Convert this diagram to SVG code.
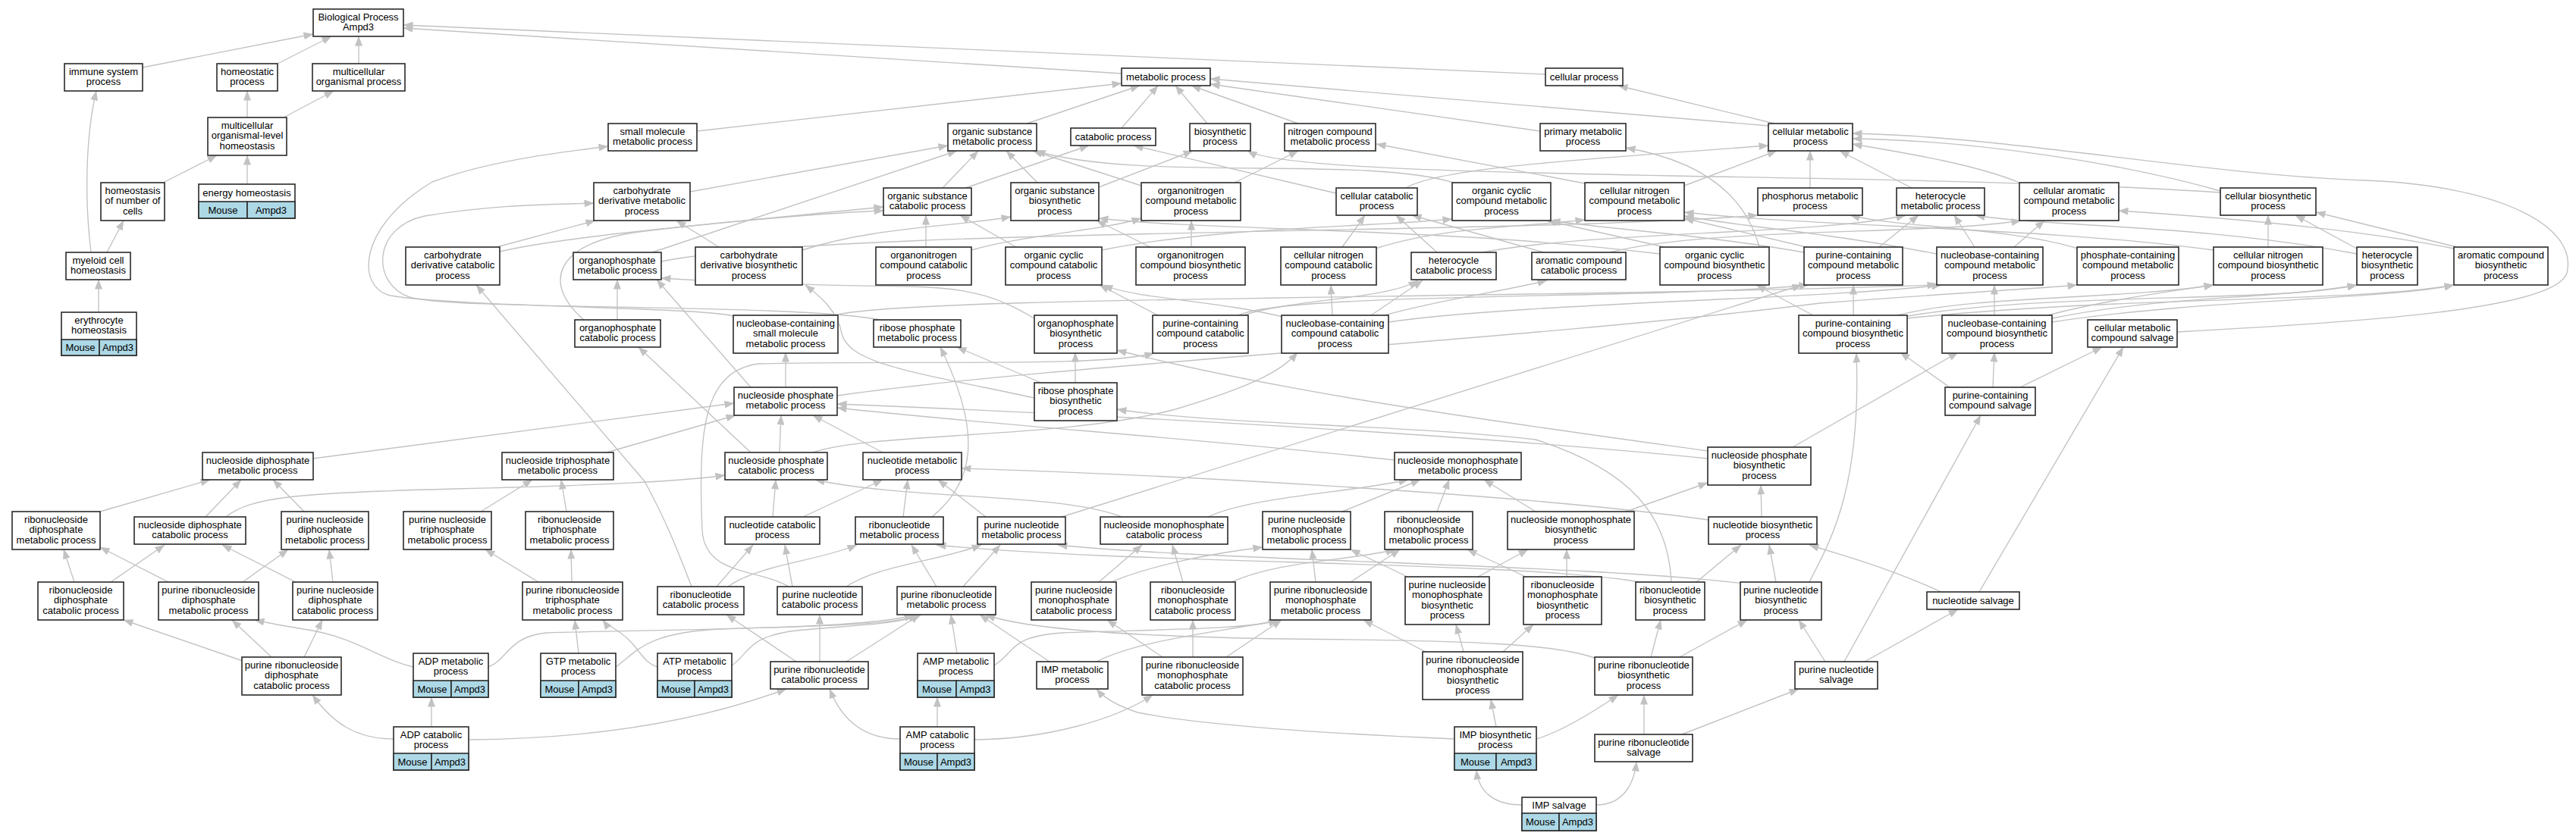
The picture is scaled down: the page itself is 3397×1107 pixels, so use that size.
<svg xmlns="http://www.w3.org/2000/svg" width="3397" height="1107" viewBox="0 0 3397 1107">
<style>
.n rect{fill:#fff;stroke:#2a2a2a;stroke-width:1.6}
.n rect.c{fill:#add8e6}
text{font-family:"Liberation Sans",Arial,Helvetica,sans-serif;font-size:13px;text-anchor:middle;fill:#000}
.e path{fill:none;stroke:#c2c2c2;stroke-width:1.35;marker-end:url(#ah)}
</style>
<defs>
<marker id="ah" viewBox="0 0 13 10" refX="12.5" refY="5" markerWidth="13" markerHeight="10" markerUnits="userSpaceOnUse" orient="auto"><path d="M0,0L13,5L0,10z" fill="#c2c2c2"/></marker>
</defs>
<rect width="3397" height="1107" fill="#fff"/>
<g id="edges" class="e">
<path d="M188,89 L413,45"/>
<path d="M366,84 L437,48"/>
<path d="M473,84 L473,48"/>
<path d="M1479,97 L532,37"/>
<path d="M2038,98 L532,33"/>
<path d="M326,155 L326,120"/>
<path d="M374,155 L440,120"/>
<path d="M215,241 L286,205"/>
<path d="M326,243 L326,205"/>
<path d="M141,333 L163,291"/>
<path d="M120,333 C110,250 115,170 127,120"/>
<path d="M130,412 L130,369"/>
<path d="M919,173 L1479,110"/>
<path d="M1354,163 L1503,113"/>
<path d="M1479,169 L1527,113"/>
<path d="M1592,163 L1550,113"/>
<path d="M1712,163 L1571,113"/>
<path d="M2031,173 L1596,111"/>
<path d="M2332,166 L1596,104"/>
<path d="M2340,163 L2134,113"/>
<path d="M910,253 L1250,192"/>
<path d="M1243,248 L1290,199"/>
<path d="M1273,248 L1436,192"/>
<path d="M1368,241 L1327,199"/>
<path d="M1449,247 L1573,199"/>
<path d="M1505,245 L1362,199"/>
<path d="M1628,241 L1712,199"/>
<path d="M1762,255 L1495,192"/>
<path d="M1854,248 C1900,220 2100,210 2332,192"/>
<path d="M1917,241 C1800,205 1500,240 1366,199"/>
<path d="M2221,245 L2343,199"/>
<path d="M2090,242 L1815,190"/>
<path d="M2387,248 L2387,199"/>
<path d="M2521,248 L2426,199"/>
<path d="M2663,241 C2600,215 2500,200 2443,190"/>
<path d="M2928,252 C2800,215 2600,185 2443,183"/>
<path d="M2928,254 C2500,225 1720,240 1645,199"/>
<path d="M2871,438 C3100,425 3370,410 3385,360 C3400,300 3300,245 3119,238 C2900,230 2650,180 2443,176"/>
<path d="M655,326 L785,291"/>
<path d="M659,332 C750,310 1000,290 1165,273"/>
<path d="M860,333 L1262,199"/>
<path d="M872,345 C1100,300 2000,310 2318,284"/>
<path d="M948,326 L892,291"/>
<path d="M1058,330 C1150,300 1250,300 1333,286"/>
<path d="M1221,326 L1221,284"/>
<path d="M1281,330 C1350,310 1450,305 1505,288"/>
<path d="M1340,326 L1266,284"/>
<path d="M1453,330 C1600,300 1800,300 1915,289"/>
<path d="M1571,326 L1571,291"/>
<path d="M1517,326 L1446,291"/>
<path d="M1770,326 L1800,284"/>
<path d="M1814,328 C1900,300 2000,300 2090,290"/>
<path d="M1895,333 L1841,284"/>
<path d="M1955,333 C2100,305 2400,310 2513,284"/>
<path d="M2036,333 L1862,284"/>
<path d="M2123,333 C2250,300 2550,310 2665,291"/>
<path d="M2195,326 L2040,291"/>
<path d="M2189,335 C1900,300 1600,305 1449,288"/>
<path d="M2320,326 C2305,270 2260,215 2144,195"/>
<path d="M2382,326 L2221,288"/>
<path d="M2478,326 L2530,284"/>
<path d="M2379,333 C2250,310 2100,300 2045,291"/>
<path d="M2604,326 L2577,284"/>
<path d="M2656,326 L2696,291"/>
<path d="M2554,335 C2400,305 2300,300 2221,285"/>
<path d="M2740,328 C2650,300 2500,300 2440,284"/>
<path d="M2991,326 L2991,284"/>
<path d="M2919,330 C2700,300 2400,300 2221,280"/>
<path d="M3108,328 L3027,284"/>
<path d="M3108,335 C2900,295 2700,300 2605,284"/>
<path d="M3240,326 L3054,280"/>
<path d="M3236,328 C3100,300 2900,285 2794,278"/>
<path d="M814,422 L814,369"/>
<path d="M770,422 C720,380 720,320 850,305 C950,293 1100,280 1165,278"/>
<path d="M967,417 C920,405 600,405 515,390 C470,380 470,300 570,240 C650,210 750,200 802,193"/>
<path d="M1100,416 C1200,390 2000,395 2554,376"/>
<path d="M1160,422 C1050,400 600,410 540,392 C490,375 490,300 560,285 C650,270 720,270 783,268"/>
<path d="M1364,420 C1320,395 1290,380 1200,378 C1050,376 950,372 872,367"/>
<path d="M1633,416 C1700,385 2200,395 2385,376"/>
<path d="M1527,416 L1450,376"/>
<path d="M1640,416 C1700,395 1830,395 1870,370"/>
<path d="M1757,416 L1755,376"/>
<path d="M1808,416 L1876,370"/>
<path d="M1826,416 C1900,395 1980,385 2040,370"/>
<path d="M1700,420 C1600,395 1500,395 1455,376"/>
<path d="M1831,425 C2000,400 2400,395 2560,376"/>
<path d="M2444,416 L2444,376"/>
<path d="M2391,416 L2316,376"/>
<path d="M2502,416 C2600,390 2800,395 2919,376"/>
<path d="M2510,418 C2700,385 3000,400 3108,376"/>
<path d="M2515,420 C2800,390 3100,400 3236,376"/>
<path d="M2700,416 C2780,395 2860,385 2919,376"/>
<path d="M2706,420 C2850,390 3000,395 3108,376"/>
<path d="M2706,425 C2900,395 3150,395 3236,376"/>
<path d="M2630,416 L2630,376"/>
<path d="M1036,511 L1036,465"/>
<path d="M990,511 L866,369"/>
<path d="M990,597 L842,458"/>
<path d="M1104,522 C1400,480 2000,450 2400,400 C2600,385 2700,380 2739,376"/>
<path d="M1373,505 L1262,458"/>
<path d="M1418,505 L1418,465"/>
<path d="M1364,525 C1200,490 1120,480 1110,440 C1105,410 1080,390 1062,376"/>
<path d="M2571,511 L2506,465"/>
<path d="M2628,511 L2630,465"/>
<path d="M2664,511 L2772,458"/>
<path d="M413,605 L968,532"/>
<path d="M800,597 L970,548"/>
<path d="M1028,597 L1030,548"/>
<path d="M1164,597 L1072,548"/>
<path d="M1839,607 C1600,580 1300,560 1104,538"/>
<path d="M2252,605 C1900,570 1400,545 1104,533"/>
<path d="M2364,590 L2582,465"/>
<path d="M2252,595 C2000,560 1700,520 1473,462"/>
<path d="M1072,597 C1150,570 1400,580 1550,540 C1650,510 1690,490 1711,465"/>
<path d="M2204,768 C2200,680 2150,620 2025,580 C1850,560 1600,560 1473,540"/>
<path d="M132,675 L277,633"/>
<path d="M271,682 L318,633"/>
<path d="M298,682 C330,655 400,650 600,645 C800,640 900,635 956,627"/>
<path d="M401,675 L360,633"/>
<path d="M634,675 L702,633"/>
<path d="M747,675 L740,633"/>
<path d="M1059,682 L1164,633"/>
<path d="M1019,682 L1023,633"/>
<path d="M1191,682 L1197,633"/>
<path d="M1229,682 C1280,640 1300,580 1240,458"/>
<path d="M1300,682 L1237,633"/>
<path d="M1400,682 L2376,376"/>
<path d="M1479,682 C1400,650 1200,660 1075,633"/>
<path d="M1593,682 C1650,655 1780,650 1857,633"/>
<path d="M1770,675 L1873,633"/>
<path d="M1895,675 L1911,633"/>
<path d="M2025,675 L1957,633"/>
<path d="M2144,675 L2252,637"/>
<path d="M2323,682 L2322,640"/>
<path d="M2253,686 C2000,650 1500,625 1268,618"/>
<path d="M98,768 L84,725"/>
<path d="M146,768 L217,719"/>
<path d="M222,768 L132,722"/>
<path d="M320,768 L380,725"/>
<path d="M390,768 L293,719"/>
<path d="M439,768 L434,725"/>
<path d="M710,768 L640,725"/>
<path d="M754,768 L753,725"/>
<path d="M945,774 L993,719"/>
<path d="M960,774 C1000,745 1080,740 1130,719"/>
<path d="M912,774 C895,730 880,690 850,635 L628,376"/>
<path d="M1045,774 L1035,719"/>
<path d="M1116,774 C1160,745 1240,740 1294,719"/>
<path d="M1040,774 C1000,750 930,760 926,700 C920,560 930,490 1000,480 C1200,475 1450,485 1522,466"/>
<path d="M1235,774 L1202,719"/>
<path d="M1270,774 L1319,719"/>
<path d="M1449,768 L1506,719"/>
<path d="M1465,768 C1520,745 1600,730 1665,722"/>
<path d="M1560,768 L1546,719"/>
<path d="M1620,770 C1680,740 1780,740 1840,725"/>
<path d="M1735,768 L1730,725"/>
<path d="M1781,768 L1846,725"/>
<path d="M1856,761 L1781,725"/>
<path d="M1949,761 L2015,725"/>
<path d="M2012,761 L1935,725"/>
<path d="M2066,761 L2066,725"/>
<path d="M2237,768 L2296,719"/>
<path d="M2163,768 C2000,740 1500,745 1235,719"/>
<path d="M2342,768 L2333,719"/>
<path d="M2300,770 C2100,745 1600,740 1395,719"/>
<path d="M2386,768 C2410,720 2455,650 2448,466"/>
<path d="M2560,781 C2480,745 2420,730 2386,719"/>
<path d="M2610,781 L2800,458"/>
<path d="M320,872 L163,818"/>
<path d="M358,867 L306,818"/>
<path d="M401,867 L425,818"/>
<path d="M545,880 C500,870 470,840 400,830 C370,825 345,820 336,818"/>
<path d="M644,880 C670,870 670,840 720,835 C900,830 1150,830 1205,811"/>
<path d="M763,862 L758,818"/>
<path d="M812,880 C840,860 850,835 950,830 C1100,825 1180,825 1210,811"/>
<path d="M867,880 C850,875 845,860 830,845 C815,830 800,825 795,818"/>
<path d="M965,878 C990,860 985,840 1050,832 C1120,825 1180,825 1215,811"/>
<path d="M1050,873 L958,811"/>
<path d="M1081,873 L1081,811"/>
<path d="M1116,873 L1213,811"/>
<path d="M1262,862 L1254,811"/>
<path d="M1311,878 C1340,860 1330,840 1400,835 C1550,830 1650,830 1685,818"/>
<path d="M1384,873 L1292,811"/>
<path d="M1446,873 C1500,845 1600,835 1690,818"/>
<path d="M1533,867 L1460,818"/>
<path d="M1573,867 L1573,818"/>
<path d="M1617,867 L1690,818"/>
<path d="M1880,860 L1798,818"/>
<path d="M1930,860 L1920,824"/>
<path d="M1982,860 L2022,824"/>
<path d="M2177,867 L2190,818"/>
<path d="M2215,867 L2304,818"/>
<path d="M2103,868 C2050,850 1950,845 1700,843 C1500,840 1350,830 1300,811"/>
<path d="M2407,873 L2372,818"/>
<path d="M2459,873 L2582,804"/>
<path d="M2432,873 L2612,548"/>
<path d="M569,959 L569,920"/>
<path d="M519,975 C470,975 440,955 412,917"/>
<path d="M618,976 C750,975 900,960 1037,909"/>
<path d="M1236,959 L1236,920"/>
<path d="M1187,975 C1140,975 1110,950 1094,909"/>
<path d="M1285,976 C1380,975 1470,950 1520,917"/>
<path d="M1973,959 L1966,923"/>
<path d="M2026,975 C2060,965 2100,940 2134,917"/>
<path d="M1918,975 C1800,970 1600,960 1500,940 C1470,930 1455,920 1446,909"/>
<path d="M2168,969 L2168,917"/>
<path d="M2218,969 L2372,909"/>
<path d="M2007,1062 C1970,1062 1950,1045 1947,1016"/>
<path d="M2105,1062 C2140,1062 2155,1035 2158,1005"/>
</g>
<g id="BP" class="n"><rect x="413" y="12" width="119" height="36"/><text x="472.5" y="27">Biological Process</text><text x="472.5" y="40.3">Ampd3</text></g>
<g id="ISP" class="n"><rect x="85" y="84" width="103" height="36"/><text x="136.5" y="99">immune system</text><text x="136.5" y="112.3">process</text></g>
<g id="HP" class="n"><rect x="286" y="84" width="80" height="36"/><text x="326" y="99">homeostatic</text><text x="326" y="112.3">process</text></g>
<g id="MOP" class="n"><rect x="412" y="84" width="122" height="36"/><text x="473" y="99">multicellular</text><text x="473" y="112.3">organismal process</text></g>
<g id="MOLH" class="n"><rect x="274" y="155" width="104" height="50"/><text x="326" y="170">multicellular</text><text x="326" y="183.3">organismal-level</text><text x="326" y="196.6">homeostasis</text></g>
<g id="HNC" class="n"><rect x="133" y="241" width="84" height="50"/><text x="175" y="256">homeostasis</text><text x="175" y="269.3">of number of</text><text x="175" y="282.6">cells</text></g>
<g id="EH" class="n"><rect x="262" y="243" width="127" height="45"/><rect class="c" x="262" y="266" width="64" height="22"/><rect class="c" x="326" y="266" width="63" height="22"/><text x="325.5" y="259">energy homeostasis</text><text x="294" y="281.5">Mouse</text><text x="357.5" y="281.5">Ampd3</text></g>
<g id="MCH" class="n"><rect x="87" y="333" width="85" height="36"/><text x="129.5" y="348">myeloid cell</text><text x="129.5" y="361.3">homeostasis</text></g>
<g id="EryH" class="n"><rect x="81" y="412" width="99" height="57"/><rect class="c" x="81" y="448" width="50" height="21"/><rect class="c" x="131" y="448" width="49" height="21"/><text x="130.5" y="427">erythrocyte</text><text x="130.5" y="440.3">homeostasis</text><text x="106" y="462.5">Mouse</text><text x="155.5" y="462.5">Ampd3</text></g>
<g id="MP" class="n"><rect x="1479" y="90" width="117" height="23"/><text x="1537.5" y="105.5">metabolic process</text></g>
<g id="CP" class="n"><rect x="2038" y="90" width="102" height="23"/><text x="2089" y="105.5">cellular process</text></g>
<g id="SMM" class="n"><rect x="802" y="163" width="117" height="36"/><text x="860.5" y="178">small molecule</text><text x="860.5" y="191.3">metabolic process</text></g>
<g id="OSM" class="n"><rect x="1250" y="163" width="117" height="36"/><text x="1308.5" y="178">organic substance</text><text x="1308.5" y="191.3">metabolic process</text></g>
<g id="CAT" class="n"><rect x="1412" y="169" width="112" height="23"/><text x="1468" y="184.5">catabolic process</text></g>
<g id="BIO" class="n"><rect x="1569" y="163" width="80" height="36"/><text x="1609" y="178">biosynthetic</text><text x="1609" y="191.3">process</text></g>
<g id="NCM" class="n"><rect x="1694" y="163" width="120" height="36"/><text x="1754" y="178">nitrogen compound</text><text x="1754" y="191.3">metabolic process</text></g>
<g id="PM" class="n"><rect x="2031" y="163" width="113" height="36"/><text x="2087.5" y="178">primary metabolic</text><text x="2087.5" y="191.3">process</text></g>
<g id="CM" class="n"><rect x="2332" y="163" width="111" height="36"/><text x="2387.5" y="178">cellular metabolic</text><text x="2387.5" y="191.3">process</text></g>
<g id="CDM" class="n"><rect x="783" y="241" width="127" height="50"/><text x="846.5" y="256">carbohydrate</text><text x="846.5" y="269.3">derivative metabolic</text><text x="846.5" y="282.6">process</text></g>
<g id="OSC" class="n"><rect x="1165" y="248" width="116" height="36"/><text x="1223" y="263">organic substance</text><text x="1223" y="276.3">catabolic process</text></g>
<g id="OSB" class="n"><rect x="1333" y="241" width="116" height="50"/><text x="1391" y="256">organic substance</text><text x="1391" y="269.3">biosynthetic</text><text x="1391" y="282.6">process</text></g>
<g id="ONM" class="n"><rect x="1505" y="241" width="131" height="50"/><text x="1570.5" y="256">organonitrogen</text><text x="1570.5" y="269.3">compound metabolic</text><text x="1570.5" y="282.6">process</text></g>
<g id="CC" class="n"><rect x="1762" y="248" width="107" height="36"/><text x="1815.5" y="263">cellular catabolic</text><text x="1815.5" y="276.3">process</text></g>
<g id="OCCM" class="n"><rect x="1915" y="241" width="130" height="50"/><text x="1980" y="256">organic cyclic</text><text x="1980" y="269.3">compound metabolic</text><text x="1980" y="282.6">process</text></g>
<g id="CNCM" class="n"><rect x="2090" y="241" width="131" height="50"/><text x="2155.5" y="256">cellular nitrogen</text><text x="2155.5" y="269.3">compound metabolic</text><text x="2155.5" y="282.6">process</text></g>
<g id="PhM" class="n"><rect x="2318" y="248" width="138" height="36"/><text x="2387" y="263">phosphorus metabolic</text><text x="2387" y="276.3">process</text></g>
<g id="HetM" class="n"><rect x="2501" y="248" width="116" height="36"/><text x="2559" y="263">heterocycle</text><text x="2559" y="276.3">metabolic process</text></g>
<g id="CACM" class="n"><rect x="2663" y="241" width="131" height="50"/><text x="2728.5" y="256">cellular aromatic</text><text x="2728.5" y="269.3">compound metabolic</text><text x="2728.5" y="282.6">process</text></g>
<g id="CB" class="n"><rect x="2928" y="248" width="126" height="36"/><text x="2991" y="263">cellular biosynthetic</text><text x="2991" y="276.3">process</text></g>
<g id="CDC" class="n"><rect x="535" y="326" width="124" height="50"/><text x="597" y="341">carbohydrate</text><text x="597" y="354.3">derivative catabolic</text><text x="597" y="367.6">process</text></g>
<g id="OPM" class="n"><rect x="756" y="333" width="116" height="36"/><text x="814" y="348">organophosphate</text><text x="814" y="361.3">metabolic process</text></g>
<g id="CDB" class="n"><rect x="917" y="326" width="141" height="50"/><text x="987.5" y="341">carbohydrate</text><text x="987.5" y="354.3">derivative biosynthetic</text><text x="987.5" y="367.6">process</text></g>
<g id="ONC" class="n"><rect x="1155" y="326" width="126" height="50"/><text x="1218" y="341">organonitrogen</text><text x="1218" y="354.3">compound catabolic</text><text x="1218" y="367.6">process</text></g>
<g id="OCCC" class="n"><rect x="1326" y="326" width="127" height="50"/><text x="1389.5" y="341">organic cyclic</text><text x="1389.5" y="354.3">compound catabolic</text><text x="1389.5" y="367.6">process</text></g>
<g id="ONB" class="n"><rect x="1498" y="326" width="144" height="50"/><text x="1570" y="341">organonitrogen</text><text x="1570" y="354.3">compound biosynthetic</text><text x="1570" y="367.6">process</text></g>
<g id="CNCC" class="n"><rect x="1689" y="326" width="126" height="50"/><text x="1752" y="341">cellular nitrogen</text><text x="1752" y="354.3">compound catabolic</text><text x="1752" y="367.6">process</text></g>
<g id="HetC" class="n"><rect x="1861" y="333" width="112" height="36"/><text x="1917" y="348">heterocycle</text><text x="1917" y="361.3">catabolic process</text></g>
<g id="ACC" class="n"><rect x="2020" y="333" width="124" height="36"/><text x="2082" y="348">aromatic compound</text><text x="2082" y="361.3">catabolic process</text></g>
<g id="OCCB" class="n"><rect x="2189" y="326" width="144" height="50"/><text x="2261" y="341">organic cyclic</text><text x="2261" y="354.3">compound biosynthetic</text><text x="2261" y="367.6">process</text></g>
<g id="PCM" class="n"><rect x="2379" y="326" width="130" height="50"/><text x="2444" y="341">purine-containing</text><text x="2444" y="354.3">compound metabolic</text><text x="2444" y="367.6">process</text></g>
<g id="NBCM" class="n"><rect x="2554" y="326" width="140" height="50"/><text x="2624" y="341">nucleobase-containing</text><text x="2624" y="354.3">compound metabolic</text><text x="2624" y="367.6">process</text></g>
<g id="PhCM" class="n"><rect x="2739" y="326" width="134" height="50"/><text x="2806" y="341">phosphate-containing</text><text x="2806" y="354.3">compound metabolic</text><text x="2806" y="367.6">process</text></g>
<g id="CNCB" class="n"><rect x="2919" y="326" width="144" height="50"/><text x="2991" y="341">cellular nitrogen</text><text x="2991" y="354.3">compound biosynthetic</text><text x="2991" y="367.6">process</text></g>
<g id="HetB" class="n"><rect x="3108" y="326" width="80" height="50"/><text x="3148" y="341">heterocycle</text><text x="3148" y="354.3">biosynthetic</text><text x="3148" y="367.6">process</text></g>
<g id="ACB" class="n"><rect x="3236" y="326" width="124" height="50"/><text x="3298" y="341">aromatic compound</text><text x="3298" y="354.3">biosynthetic</text><text x="3298" y="367.6">process</text></g>
<g id="OPC" class="n"><rect x="758" y="422" width="113" height="36"/><text x="814.5" y="437">organophosphate</text><text x="814.5" y="450.3">catabolic process</text></g>
<g id="NBSM" class="n"><rect x="967" y="416" width="138" height="50"/><text x="1036" y="431">nucleobase-containing</text><text x="1036" y="444.3">small molecule</text><text x="1036" y="457.6">metabolic process</text></g>
<g id="RPM" class="n"><rect x="1152" y="422" width="115" height="36"/><text x="1209.5" y="437">ribose phosphate</text><text x="1209.5" y="450.3">metabolic process</text></g>
<g id="OPB" class="n"><rect x="1364" y="416" width="109" height="50"/><text x="1418.5" y="431">organophosphate</text><text x="1418.5" y="444.3">biosynthetic</text><text x="1418.5" y="457.6">process</text></g>
<g id="PCC" class="n"><rect x="1520" y="416" width="126" height="50"/><text x="1583" y="431">purine-containing</text><text x="1583" y="444.3">compound catabolic</text><text x="1583" y="457.6">process</text></g>
<g id="NBCC" class="n"><rect x="1690" y="416" width="141" height="50"/><text x="1760.5" y="431">nucleobase-containing</text><text x="1760.5" y="444.3">compound catabolic</text><text x="1760.5" y="457.6">process</text></g>
<g id="PCB" class="n"><rect x="2372" y="416" width="143" height="50"/><text x="2443.5" y="431">purine-containing</text><text x="2443.5" y="444.3">compound biosynthetic</text><text x="2443.5" y="457.6">process</text></g>
<g id="NBCB" class="n"><rect x="2561" y="416" width="145" height="50"/><text x="2633.5" y="431">nucleobase-containing</text><text x="2633.5" y="444.3">compound biosynthetic</text><text x="2633.5" y="457.6">process</text></g>
<g id="CMCS" class="n"><rect x="2753" y="422" width="118" height="36"/><text x="2812" y="437">cellular metabolic</text><text x="2812" y="450.3">compound salvage</text></g>
<g id="NPM" class="n"><rect x="968" y="511" width="136" height="37"/><text x="1036" y="526">nucleoside phosphate</text><text x="1036" y="539.3">metabolic process</text></g>
<g id="RPB" class="n"><rect x="1364" y="505" width="109" height="50"/><text x="1418.5" y="520">ribose phosphate</text><text x="1418.5" y="533.3">biosynthetic</text><text x="1418.5" y="546.6">process</text></g>
<g id="PCS" class="n"><rect x="2565" y="511" width="119" height="37"/><text x="2624.5" y="526">purine-containing</text><text x="2624.5" y="539.3">compound salvage</text></g>
<g id="NDPM" class="n"><rect x="267" y="597" width="146" height="36"/><text x="340" y="612">nucleoside diphosphate</text><text x="340" y="625.3">metabolic process</text></g>
<g id="NTPM" class="n"><rect x="662" y="597" width="147" height="36"/><text x="735.5" y="612">nucleoside triphosphate</text><text x="735.5" y="625.3">metabolic process</text></g>
<g id="NPC" class="n"><rect x="956" y="597" width="135" height="36"/><text x="1023.5" y="612">nucleoside phosphate</text><text x="1023.5" y="625.3">catabolic process</text></g>
<g id="NuM" class="n"><rect x="1138" y="597" width="130" height="36"/><text x="1203" y="612">nucleotide metabolic</text><text x="1203" y="625.3">process</text></g>
<g id="NMPM" class="n"><rect x="1839" y="597" width="167" height="36"/><text x="1922.5" y="612">nucleoside monophosphate</text><text x="1922.5" y="625.3">metabolic process</text></g>
<g id="NPB" class="n"><rect x="2252" y="590" width="136" height="50"/><text x="2320" y="605">nucleoside phosphate</text><text x="2320" y="618.3">biosynthetic</text><text x="2320" y="631.6">process</text></g>
<g id="RNDPM" class="n"><rect x="16" y="675" width="116" height="50"/><text x="74" y="690">ribonucleoside</text><text x="74" y="703.3">diphosphate</text><text x="74" y="716.6">metabolic process</text></g>
<g id="NDPC" class="n"><rect x="177" y="682" width="147" height="36"/><text x="250.5" y="697">nucleoside diphosphate</text><text x="250.5" y="710.3">catabolic process</text></g>
<g id="PNDPM" class="n"><rect x="371" y="675" width="115" height="50"/><text x="428.5" y="690">purine nucleoside</text><text x="428.5" y="703.3">diphosphate</text><text x="428.5" y="716.6">metabolic process</text></g>
<g id="PNTPM" class="n"><rect x="532" y="675" width="116" height="50"/><text x="590" y="690">purine nucleoside</text><text x="590" y="703.3">triphosphate</text><text x="590" y="716.6">metabolic process</text></g>
<g id="RNTPM" class="n"><rect x="693" y="675" width="116" height="50"/><text x="751" y="690">ribonucleoside</text><text x="751" y="703.3">triphosphate</text><text x="751" y="716.6">metabolic process</text></g>
<g id="NuC" class="n"><rect x="956" y="682" width="125" height="36"/><text x="1018.5" y="697">nucleotide catabolic</text><text x="1018.5" y="710.3">process</text></g>
<g id="RNuM" class="n"><rect x="1128" y="682" width="116" height="36"/><text x="1186" y="697">ribonucleotide</text><text x="1186" y="710.3">metabolic process</text></g>
<g id="PNuM" class="n"><rect x="1289" y="682" width="116" height="36"/><text x="1347" y="697">purine nucleotide</text><text x="1347" y="710.3">metabolic process</text></g>
<g id="NMPC" class="n"><rect x="1451" y="682" width="168" height="36"/><text x="1535" y="697">nucleoside monophosphate</text><text x="1535" y="710.3">catabolic process</text></g>
<g id="PNMPM" class="n"><rect x="1665" y="675" width="116" height="50"/><text x="1723" y="690">purine nucleoside</text><text x="1723" y="703.3">monophosphate</text><text x="1723" y="716.6">metabolic process</text></g>
<g id="RNMPM" class="n"><rect x="1826" y="675" width="116" height="50"/><text x="1884" y="690">ribonucleoside</text><text x="1884" y="703.3">monophosphate</text><text x="1884" y="716.6">metabolic process</text></g>
<g id="NMPB" class="n"><rect x="1988" y="675" width="167" height="50"/><text x="2071.5" y="690">nucleoside monophosphate</text><text x="2071.5" y="703.3">biosynthetic</text><text x="2071.5" y="716.6">process</text></g>
<g id="NuB" class="n"><rect x="2253" y="682" width="143" height="36"/><text x="2324.5" y="697">nucleotide biosynthetic</text><text x="2324.5" y="710.3">process</text></g>
<g id="RNDPC" class="n"><rect x="50" y="768" width="113" height="50"/><text x="106.5" y="783">ribonucleoside</text><text x="106.5" y="796.3">diphosphate</text><text x="106.5" y="809.6">catabolic process</text></g>
<g id="PRNDPM" class="n"><rect x="209" y="768" width="132" height="50"/><text x="275" y="783">purine ribonucleoside</text><text x="275" y="796.3">diphosphate</text><text x="275" y="809.6">metabolic process</text></g>
<g id="PNDPC" class="n"><rect x="386" y="768" width="112" height="50"/><text x="442" y="783">purine nucleoside</text><text x="442" y="796.3">diphosphate</text><text x="442" y="809.6">catabolic process</text></g>
<g id="PRNTPM" class="n"><rect x="689" y="768" width="132" height="50"/><text x="755" y="783">purine ribonucleoside</text><text x="755" y="796.3">triphosphate</text><text x="755" y="809.6">metabolic process</text></g>
<g id="RNuC" class="n"><rect x="867" y="774" width="114" height="37"/><text x="924" y="789">ribonucleotide</text><text x="924" y="802.3">catabolic process</text></g>
<g id="PNuC" class="n"><rect x="1025" y="774" width="112" height="37"/><text x="1081" y="789">purine nucleotide</text><text x="1081" y="802.3">catabolic process</text></g>
<g id="PRNuM" class="n"><rect x="1183" y="774" width="130" height="37"/><text x="1248" y="789">purine ribonucleotide</text><text x="1248" y="802.3">metabolic process</text></g>
<g id="PNMPC" class="n"><rect x="1360" y="768" width="112" height="50"/><text x="1416" y="783">purine nucleoside</text><text x="1416" y="796.3">monophosphate</text><text x="1416" y="809.6">catabolic process</text></g>
<g id="RNMPC" class="n"><rect x="1517" y="768" width="112" height="50"/><text x="1573" y="783">ribonucleoside</text><text x="1573" y="796.3">monophosphate</text><text x="1573" y="809.6">catabolic process</text></g>
<g id="PRNMPM" class="n"><rect x="1675" y="768" width="133" height="50"/><text x="1741.5" y="783">purine ribonucleoside</text><text x="1741.5" y="796.3">monophosphate</text><text x="1741.5" y="809.6">metabolic process</text></g>
<g id="PNMPB" class="n"><rect x="1853" y="761" width="111" height="63"/><text x="1908.5" y="776">purine nucleoside</text><text x="1908.5" y="789.3">monophosphate</text><text x="1908.5" y="802.6">biosynthetic</text><text x="1908.5" y="815.9">process</text></g>
<g id="RNMPB" class="n"><rect x="2009" y="761" width="103" height="63"/><text x="2060.5" y="776">ribonucleoside</text><text x="2060.5" y="789.3">monophosphate</text><text x="2060.5" y="802.6">biosynthetic</text><text x="2060.5" y="815.9">process</text></g>
<g id="RNuB" class="n"><rect x="2157" y="768" width="91" height="50"/><text x="2202.5" y="783">ribonucleotide</text><text x="2202.5" y="796.3">biosynthetic</text><text x="2202.5" y="809.6">process</text></g>
<g id="PNuB" class="n"><rect x="2295" y="768" width="107" height="50"/><text x="2348.5" y="783">purine nucleotide</text><text x="2348.5" y="796.3">biosynthetic</text><text x="2348.5" y="809.6">process</text></g>
<g id="NuS" class="n"><rect x="2541" y="781" width="122" height="23"/><text x="2602" y="796.5">nucleotide salvage</text></g>
<g id="PRNDPC" class="n"><rect x="319" y="867" width="131" height="50"/><text x="384.5" y="882">purine ribonucleoside</text><text x="384.5" y="895.3">diphosphate</text><text x="384.5" y="908.6">catabolic process</text></g>
<g id="ADPM" class="n"><rect x="545" y="862" width="99" height="58"/><rect class="c" x="545" y="898" width="50" height="22"/><rect class="c" x="595" y="898" width="49" height="22"/><text x="594.5" y="877">ADP metabolic</text><text x="594.5" y="890.3">process</text><text x="570" y="913.5">Mouse</text><text x="619.5" y="913.5">Ampd3</text></g>
<g id="GTPM" class="n"><rect x="713" y="862" width="99" height="58"/><rect class="c" x="713" y="898" width="50" height="22"/><rect class="c" x="763" y="898" width="49" height="22"/><text x="762.5" y="877">GTP metabolic</text><text x="762.5" y="890.3">process</text><text x="738" y="913.5">Mouse</text><text x="787.5" y="913.5">Ampd3</text></g>
<g id="ATPM" class="n"><rect x="867" y="862" width="98" height="58"/><rect class="c" x="867" y="898" width="49" height="22"/><rect class="c" x="916" y="898" width="49" height="22"/><text x="916" y="877">ATP metabolic</text><text x="916" y="890.3">process</text><text x="891.5" y="913.5">Mouse</text><text x="940.5" y="913.5">Ampd3</text></g>
<g id="PRNuC" class="n"><rect x="1016" y="873" width="129" height="36"/><text x="1080.5" y="888">purine ribonucleotide</text><text x="1080.5" y="901.3">catabolic process</text></g>
<g id="AMPM" class="n"><rect x="1210" y="862" width="101" height="58"/><rect class="c" x="1210" y="898" width="51" height="22"/><rect class="c" x="1261" y="898" width="50" height="22"/><text x="1260.5" y="877">AMP metabolic</text><text x="1260.5" y="890.3">process</text><text x="1235.5" y="913.5">Mouse</text><text x="1286" y="913.5">Ampd3</text></g>
<g id="IMPM" class="n"><rect x="1367" y="873" width="94" height="36"/><text x="1414" y="888">IMP metabolic</text><text x="1414" y="901.3">process</text></g>
<g id="PRNMPC" class="n"><rect x="1506" y="867" width="133" height="50"/><text x="1572.5" y="882">purine ribonucleoside</text><text x="1572.5" y="895.3">monophosphate</text><text x="1572.5" y="908.6">catabolic process</text></g>
<g id="PRNMPB" class="n"><rect x="1876" y="860" width="132" height="63"/><text x="1942" y="875">purine ribonucleoside</text><text x="1942" y="888.3">monophosphate</text><text x="1942" y="901.6">biosynthetic</text><text x="1942" y="914.9">process</text></g>
<g id="PRNuB" class="n"><rect x="2103" y="867" width="129" height="50"/><text x="2167.5" y="882">purine ribonucleotide</text><text x="2167.5" y="895.3">biosynthetic</text><text x="2167.5" y="908.6">process</text></g>
<g id="PNuS" class="n"><rect x="2367" y="873" width="109" height="36"/><text x="2421.5" y="888">purine nucleotide</text><text x="2421.5" y="901.3">salvage</text></g>
<g id="ADPC" class="n"><rect x="519" y="959" width="99" height="57"/><rect class="c" x="519" y="994" width="50" height="22"/><rect class="c" x="569" y="994" width="49" height="22"/><text x="568.5" y="974">ADP catabolic</text><text x="568.5" y="987.3">process</text><text x="544" y="1009.5">Mouse</text><text x="593.5" y="1009.5">Ampd3</text></g>
<g id="AMPC" class="n"><rect x="1187" y="959" width="98" height="57"/><rect class="c" x="1187" y="994" width="49" height="22"/><rect class="c" x="1236" y="994" width="49" height="22"/><text x="1236" y="974">AMP catabolic</text><text x="1236" y="987.3">process</text><text x="1211.5" y="1009.5">Mouse</text><text x="1260.5" y="1009.5">Ampd3</text></g>
<g id="IMPB" class="n"><rect x="1918" y="959" width="108" height="57"/><rect class="c" x="1918" y="994" width="55" height="22"/><rect class="c" x="1973" y="994" width="53" height="22"/><text x="1972" y="974">IMP biosynthetic</text><text x="1972" y="987.3">process</text><text x="1945.5" y="1009.5">Mouse</text><text x="1999.5" y="1009.5">Ampd3</text></g>
<g id="PRNuS" class="n"><rect x="2103" y="969" width="129" height="36"/><text x="2167.5" y="984">purine ribonucleotide</text><text x="2167.5" y="997.3">salvage</text></g>
<g id="IMPS" class="n"><rect x="2007" y="1052" width="98" height="44"/><rect class="c" x="2007" y="1073" width="49" height="23"/><rect class="c" x="2056" y="1073" width="49" height="23"/><text x="2056" y="1067">IMP salvage</text><text x="2031.5" y="1089">Mouse</text><text x="2080.5" y="1089">Ampd3</text></g>
</svg>
